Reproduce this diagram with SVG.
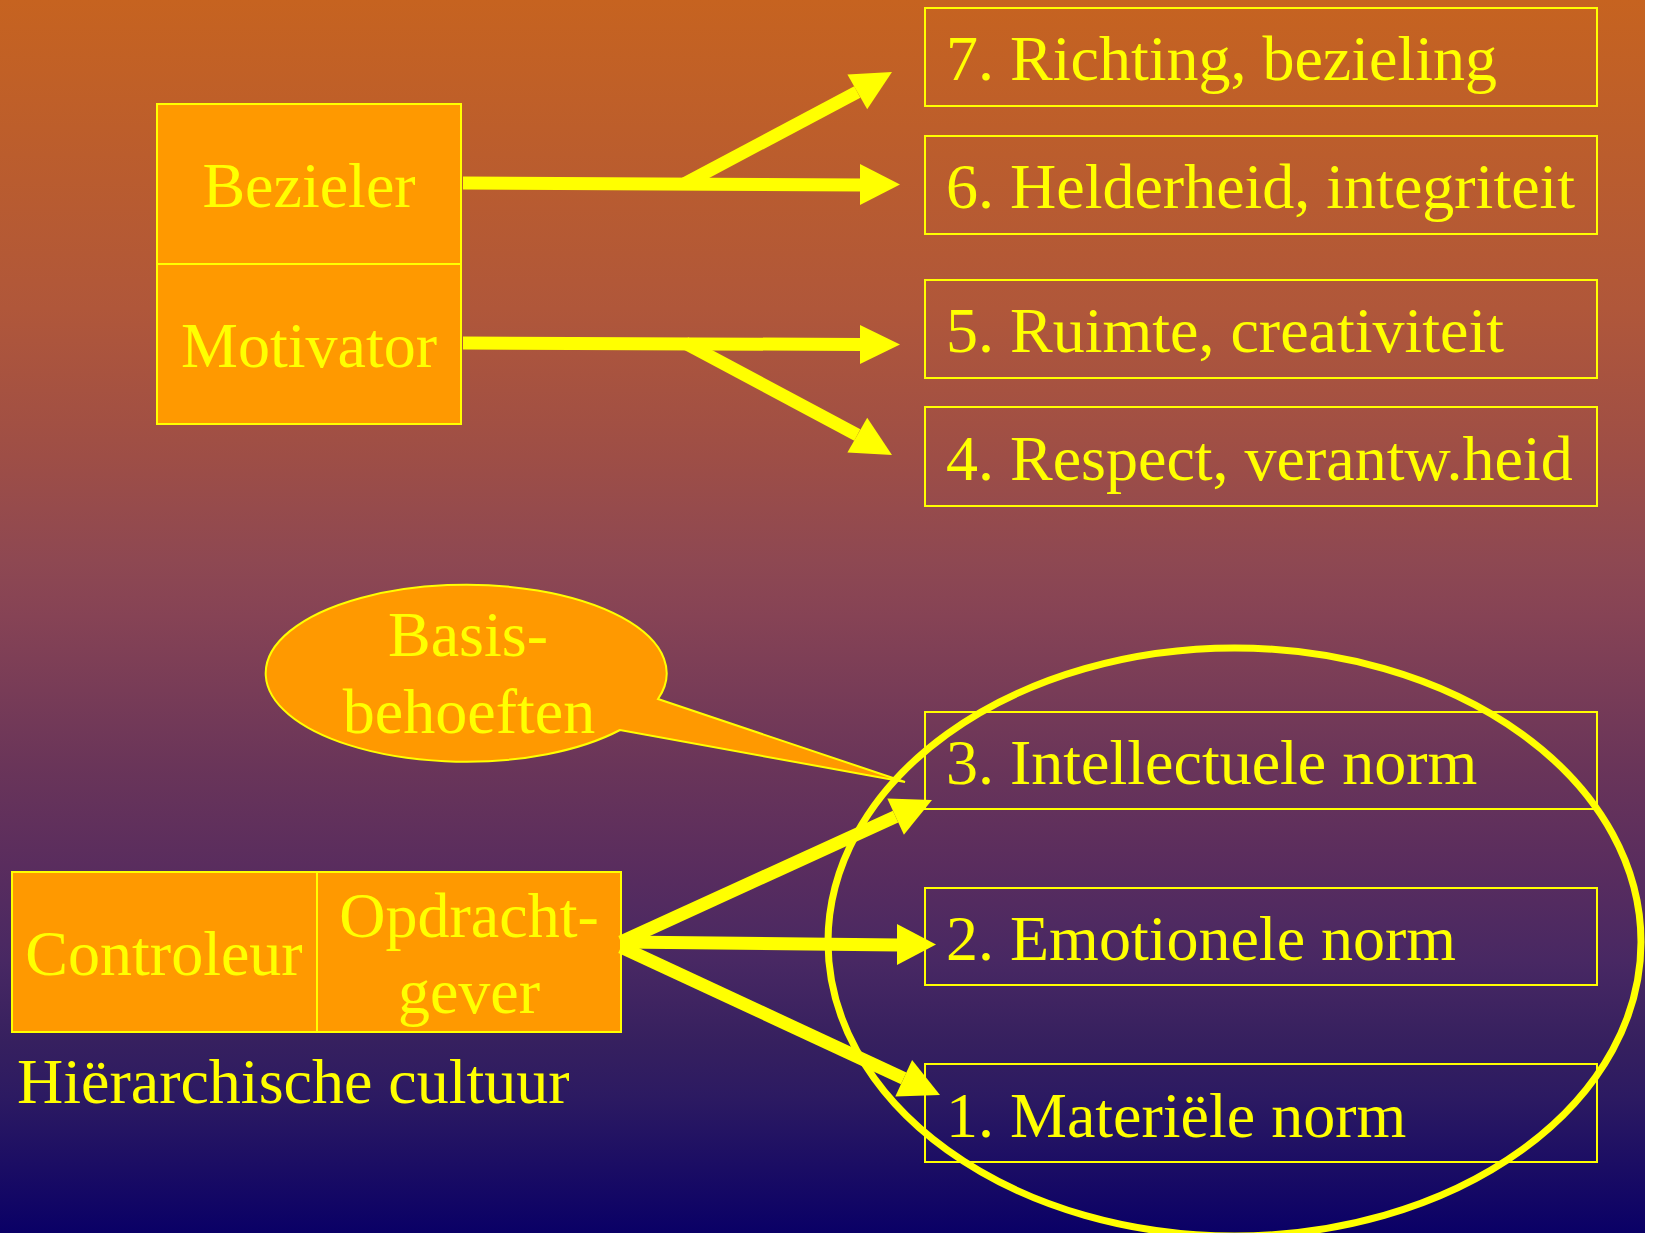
<svg xmlns="http://www.w3.org/2000/svg" width="1654" height="1233" viewBox="0 0 1654 1233">
  <defs>
    <linearGradient id="bg" x1="0" y1="0" x2="0" y2="1">
      <stop offset="0" stop-color="#C66320"/>
      <stop offset="0.25" stop-color="#B0573A"/>
      <stop offset="0.37" stop-color="#9E4E46"/>
      <stop offset="0.455" stop-color="#8E4852"/>
      <stop offset="0.5" stop-color="#864355"/>
      <stop offset="0.62" stop-color="#6A3559"/>
      <stop offset="0.70" stop-color="#5A2D5E"/>
      <stop offset="0.78" stop-color="#482863"/>
      <stop offset="0.845" stop-color="#36205F"/>
      <stop offset="0.89" stop-color="#2C1A62"/>
      <stop offset="1" stop-color="#0A0066"/>
    </linearGradient>
  </defs>
  <style>
    text { font-family: "Liberation Serif", "Times New Roman", serif; font-size: 64px; fill: #FFFF00; }
    .mid { text-anchor: middle; }
    .obox { fill: #FF9900; stroke: #FFFF00; stroke-width: 2; }
    .nbox { fill: none; stroke: #FFFF00; stroke-width: 2; }
    .conn line { stroke: #FFFF00; stroke-width: 13; stroke-linecap: butt; }
    .conn polygon { fill: #FFFF00; }
  </style>

  <rect x="0" y="0" width="1645" height="1233" fill="url(#bg)"/>

  <g id="bezieler-motivator">
    <rect class="obox" x="157" y="104" width="304" height="160"/>
    <rect class="obox" x="157" y="264" width="304" height="160"/>
    <text class="mid" x="309" y="207">Bezieler</text>
    <text class="mid" x="309" y="367">Motivator</text>
  </g>

  <g id="norm7">
    <rect class="nbox" x="925" y="8" width="672" height="98"/>
    <text x="946" y="80">7. Richting, bezieling</text>
  </g>
  <g id="norm6">
    <rect class="nbox" x="925" y="136" width="672" height="98"/>
    <text x="946" y="208">6. Helderheid, integriteit</text>
  </g>
  <g id="norm5">
    <rect class="nbox" x="925" y="280" width="672" height="98"/>
    <text x="946" y="352">5. Ruimte, creativiteit</text>
  </g>
  <g id="norm4">
    <rect class="nbox" x="925" y="407" width="672" height="99"/>
    <text x="946" y="480">4. Respect, verantw.heid</text>
  </g>
  <g id="norm3">
    <rect class="nbox" x="925" y="712" width="672" height="97"/>
    <text x="946" y="784">3. Intellectuele norm</text>
  </g>
  <g id="norm2">
    <rect class="nbox" x="925" y="888" width="672" height="97"/>
    <text x="946" y="960">2. Emotionele norm</text>
  </g>
  <g id="norm1">
    <rect class="nbox" x="925" y="1064" width="672" height="98"/>
    <text x="946" y="1137">1. Materiële norm</text>
  </g>

  <g id="controleur-opdrachtgever">
    <rect class="obox" x="12" y="872" width="305" height="160"/>
    <rect class="obox" x="317" y="872" width="304" height="160"/>
    <text class="mid" x="164" y="975">Controleur</text>
    <text class="mid" x="469" y="937">Opdracht-</text>
    <text class="mid" x="469" y="1013">gever</text>
  </g>

  <g id="label-hierarchische">
    <text x="17" y="1103">Hiërarchische cultuur</text>
  </g>

  <g id="callout-basisbehoeften">
    <path d="M 658 699 L 905 782 L 620 730 A 200.5 88.5 0 1 1 658 699 Z" fill="#FF9900" stroke="#FFFF00" stroke-width="2"/>
    <text class="mid" x="468" y="656">Basis-</text>
    <text class="mid" x="469" y="733">behoeften</text>
  </g>

  <g id="connectors" class="conn">
    <line x1="463" y1="183" x2="862" y2="185"/>
    <polygon points="860,164 900,184.5 860,205"/>
    <line x1="685" y1="183.5" x2="857.3" y2="91.9"/>
    <polygon points="847.4,74.5 892,72 867.2,109.3"/>

    <line x1="463" y1="343" x2="862" y2="344.5"/>
    <polygon points="860,325 900,344.5 860,364"/>
    <line x1="685" y1="343" x2="857.3" y2="435.1"/>
    <polygon points="847.4,452.5 892,455 867.2,417.7"/>

    <line x1="621" y1="942" x2="895.6" y2="816.6"/>
    <polygon points="887.3,798.4 932,800 903.9,834.8"/>
    <line x1="621" y1="942" x2="899" y2="945"/>
    <polygon points="897,924 936,944.5 897,965"/>
    <line x1="621" y1="947" x2="903.7" y2="1078.3"/>
    <polygon points="895.3,1096.5 940,1095 912.1,1060.1"/>
  </g>

  <g id="norm-ellipse">
    <ellipse cx="1234.5" cy="942" rx="406.5" ry="294" fill="none" stroke="#FFFF00" stroke-width="7"/>
  </g>
</svg>
